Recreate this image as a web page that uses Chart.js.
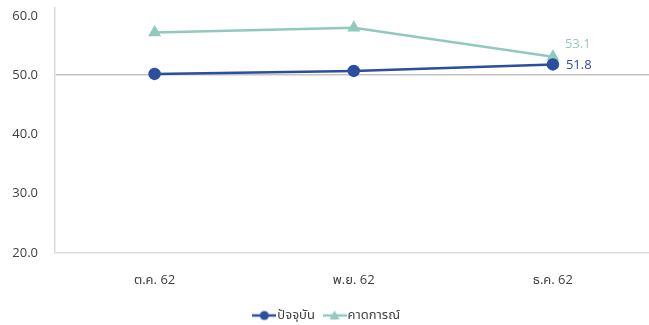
<!DOCTYPE html>
<html>
<head>
<meta charset="utf-8">
<script src="https://cdn.jsdelivr.net/npm/chart.js@4/dist/chart.umd.min.js"></script>
<style>
  html, body { margin: 0; padding: 0; background: #fff; overflow: hidden; }
  #wrap { width: 660px; height: 325px; }
</style>
</head>
<body>
<div id="wrap"><canvas id="myChart" width="660" height="325"></canvas></div>
<script>
const months = ['ต.ค. 62', 'พ.ย. 62', 'ธ.ค. 62'];
const current = [50.2, 50.7, 51.8];
const forecast = [57.2, 58.0, 53.1];
const yTicks = [20, 30, 40, 50, 60];

const blue = '#2b4ea0';
const teal = '#92c9bf';
const font = "'Open Sans', 'Noto Sans', 'Noto Sans Thai', sans-serif";

// small legend icon: line with marker in the middle
function legendIcon(color, shape) {
  const c = document.createElement('canvas');
  c.width = 24; c.height = 12;
  const g = c.getContext('2d');
  g.strokeStyle = color; g.lineWidth = 2.5;
  g.beginPath(); g.moveTo(0, 6); g.lineTo(24, 6); g.stroke();
  g.fillStyle = color;
  g.beginPath();
  if (shape === 'circle') {
    g.arc(12, 6, 4.5, 0, Math.PI * 2);
  } else {
    g.moveTo(12, 1); g.lineTo(17, 10); g.lineTo(7, 10); g.closePath();
  }
  g.fill();
  return c;
}

// value labels on the last point of each line
const lastLabels = {
  id: 'lastLabels',
  afterDatasetsDraw(chart) {
    const ctx = chart.ctx;
    ctx.save();
    ctx.font = '13px ' + font;
    ctx.textBaseline = 'middle';
    ctx.textAlign = 'left';
    chart.data.datasets.forEach((ds, i) => {
      const meta = chart.getDatasetMeta(i);
      const n = ds.data.length - 1;
      const pt = meta.data[n];
      ctx.fillStyle = ds.borderColor;
      const dy = i === 0 ? 1 : -12;
      const dx = i === 0 ? 13 : 12;
      ctx.fillText(ds.data[n].toFixed(1), pt.x + dx, pt.y + dy);
    });
    ctx.restore();
  }
};

const canvas = document.getElementById('myChart');
new Chart(canvas.getContext('2d'), {
  type: 'line',
  data: {
    labels: months,
    datasets: [
      {
        label: 'ปัจจุบัน',
        data: current,
        borderColor: blue,
        backgroundColor: blue,
        borderWidth: 2.5,
        pointStyle: 'circle',
        pointRadius: 5,
        pointHoverRadius: 5,
        tension: 0
      },
      {
        label: 'คาดการณ์',
        data: forecast,
        borderColor: teal,
        backgroundColor: teal,
        borderWidth: 2.5,
        pointStyle: 'triangle',
        pointRadius: 5,
        pointHoverRadius: 5,
        tension: 0
      }
    ]
  },
  options: {
    responsive: false,
    animation: false,
    layout: { padding: { left: 8, right: 0, top: 0, bottom: -7 } },
    plugins: {
      legend: {
        position: 'bottom',
        labels: {
          usePointStyle: true,
          boxWidth: 24,
          boxHeight: 12,
          padding: 3,
          color: '#404040',
          font: { family: font, size: 13 },
          generateLabels(chart) {
            return chart.data.datasets.map((ds, i) => ({
              text: ds.label + '   ',
              pointStyle: legendIcon(ds.borderColor, i === 0 ? 'circle' : 'triangle'),
              fillStyle: ds.borderColor,
              strokeStyle: ds.borderColor,
              lineWidth: 0,
              fontColor: '#404040',
              datasetIndex: i
            }));
          }
        }
      },
      tooltip: { enabled: false }
    },
    scales: {
      x: {
        offset: true,
        grid: { display: false },
        border: { display: false },
        ticks: { color: '#404040', font: { family: font, size: 13 }, padding: 11 },
        afterFit(scale) { scale.height = 53; }
      },
      y: {
        min: 20,
        max: 61.4,
        afterBuildTicks(scale) { scale.ticks = yTicks.map(v => ({ value: v })); },
        afterFit(scale) { scale.width = 47; scale.paddingTop = 0; scale.paddingBottom = 0; },
        grid: {
          color: (c) => c.tick && c.tick.value === 50 ? '#c4c4c4' : (c.tick && c.tick.value === 20 ? '#dcdcdc' : 'transparent'),
          lineWidth: 1.5,
          drawTicks: false
        },
        border: { display: true, color: '#dcdcdc', width: 1.5 },
        ticks: {
          color: '#404040',
          font: { family: font, size: 13 },
          padding: 17,
          callback: (v) => Number(v).toFixed(1)
        }
      }
    }
  },
  plugins: [lastLabels]
});
</script>
</body>
</html>
